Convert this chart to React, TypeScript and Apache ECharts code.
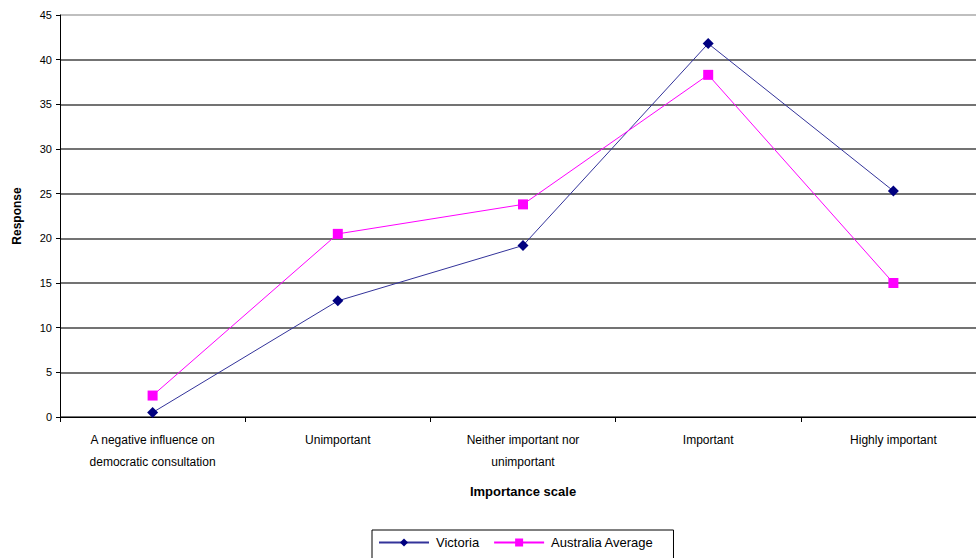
import React, { useEffect, useRef } from "react";
import * as echarts from "echarts";

const categories = [
  "A negative influence on\ndemocratic consultation",
  "Unimportant",
  "Neither important nor\nunimportant",
  "Important",
  "Highly important",
];
const victoria = [0.5, 13.0, 19.2, 41.8, 25.3];
const australia = [2.4, 20.5, 23.8, 38.3, 15.0];

export default function App() {
  const ref = useRef<HTMLDivElement>(null);
  useEffect(() => {
    if (!ref.current) return;
    const chart = echarts.init(ref.current, null, { renderer: "svg" });
    const font = "Liberation Sans, Arial, sans-serif";
    chart.setOption({
      animation: false,
      backgroundColor: "#ffffff",
      grid: { left: 60, top: 15, width: 926, height: 402, containLabel: false },
      xAxis: {
        type: "category",
        data: categories,
        boundaryGap: true,
        name: "Importance scale",
        nameLocation: "middle",
        nameGap: 68,
        nameTextStyle: { fontFamily: font, fontSize: 13, fontWeight: "bold", color: "#000" },
        axisLine: { lineStyle: { color: "#000", width: 1 } },
        axisTick: { show: true, length: 5, lineStyle: { color: "#000" }, alignWithLabel: false },
        axisLabel: { fontFamily: font, fontSize: 12, color: "#000", margin: 12, lineHeight: 22, interval: 0 },
        splitLine: { show: false },
      },
      yAxis: {
        type: "value",
        min: 0,
        max: 45,
        interval: 5,
        name: "Response",
        nameLocation: "middle",
        nameGap: 37,
        nameRotate: 90,
        nameTextStyle: { fontFamily: font, fontSize: 12, fontWeight: "bold", color: "#000" },
        axisLine: { show: true, lineStyle: { color: "#000", width: 1 } },
        axisTick: { show: true, length: 4, lineStyle: { color: "#000" } },
        axisLabel: { fontFamily: font, fontSize: 11, color: "#000", margin: 8 },
        splitLine: {
          show: true,
          lineStyle: {
            color: ["#444", "#444", "#444", "#444", "#444", "#444", "#444", "#444", "#444", "#aaa"],
            width: 1.5,
          },
        },
      },
      legend: {
        top: 530,
        left: 372,
        itemWidth: 50,
        itemHeight: 10,
        itemGap: 14,
        borderColor: "#000",
        borderWidth: 1,
        padding: [6, 20, 20, 6],
        textStyle: { fontFamily: font, fontSize: 13, color: "#000", padding: [0, 0, 0, 2] },
        data: ["Victoria", "Australia Average"],
      },
      series: [
        {
          name: "Victoria",
          type: "line",
          data: victoria,
          symbol: "diamond",
          symbolSize: 11,
          lineStyle: { color: "#33339a", width: 1 },
          itemStyle: { color: "#000080" },
        },
        {
          name: "Australia Average",
          type: "line",
          data: australia,
          symbol: "rect",
          symbolSize: 10,
          lineStyle: { color: "#ff00ff", width: 1 },
          itemStyle: { color: "#ff00ff" },
        },
      ],
    });
    return () => chart.dispose();
  }, []);
  return (
    <div style={{ position: "fixed", left: 0, top: 0, width: 976, height: 558, overflow: "hidden", background: "#fff" }}>
      <div ref={ref} style={{ width: 1000, height: 558 }} />
    </div>
  );
}
